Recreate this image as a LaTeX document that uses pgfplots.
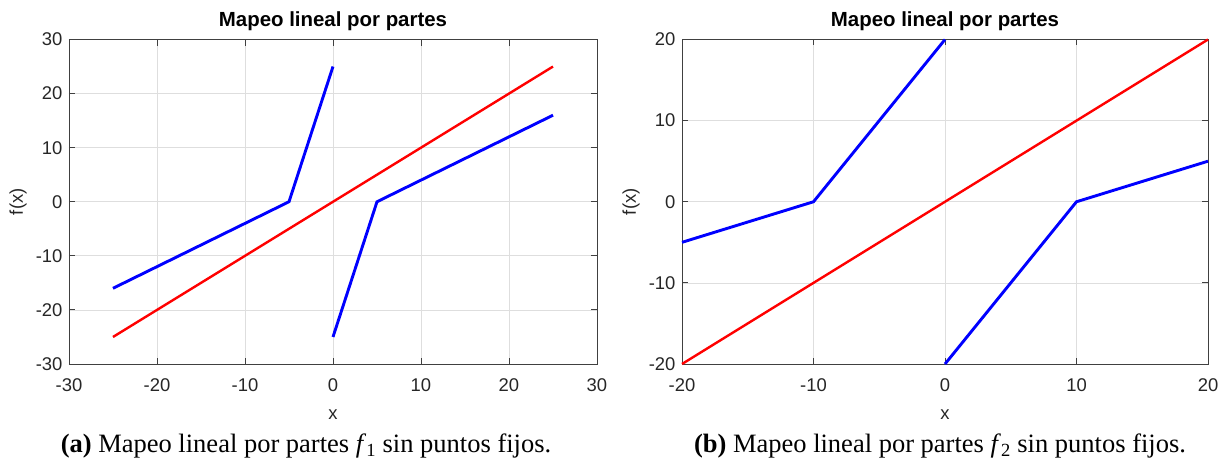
\documentclass[border=0pt]{standalone}
\usepackage{fontspec}
\setmainfont{Liberation Serif}
\newfontfamily\arial{Liberation Sans}
\usepackage{pgfplots}
\pgfplotsset{compat=1.18}
\pgfplotsset{mystyle/.style={
  scale only axis, height=324.5bp,
  grid=major, major grid style={black!13, line width=0.7bp},
  axis line style={black!75, line width=0.9bp},
  tick style={black!75, line width=0.9bp},
  tick align=inside, tick pos=both, major tick length=6bp,
  ticklabel style={font=\arial\fontsize{18.5}{21}\selectfont, text=black!85},
  xticklabel style={yshift=-11bp},
  yticklabel style={xshift=-3bp},
  title style={font=\arial\bfseries\fontsize{20.5}{23}\selectfont, at={(axis description cs:0.5,1)}, anchor=base, yshift=7.5bp},
  xlabel style={font=\arial\fontsize{18.5}{21}\selectfont, text=black!85, at={(axis description cs:0.5,-0.155)}, anchor=center},
  ylabel style={font=\arial\fontsize{18.5}{21}\selectfont, text=black!85, anchor=center, rotate=0},
  title={Mapeo lineal por partes}, xlabel={x}, ylabel={f(x)},
  clip=false,
}}
\begin{document}
\begin{tikzpicture}
\path[use as bounding box] (-69bp,-94bp) rectangle (1151bp,364bp);
\begin{axis}[mystyle, width=528bp, at={(0bp,0bp)},
  ylabel style={at={(axis description cs:-0.0966,0.5)}},
  xmin=-30, xmax=30, ymin=-30, ymax=30,
  xtick={-30,-20,-10,0,10,20,30}, ytick={-30,-20,-10,0,10,20,30},
  xticklabels={-30,-20,-10,0,10,20,30}, yticklabels={-30,-20,-10,0,10,20,30}]
\addplot[red, line width=2.4bp] coordinates {(-25,-25) (25,25)};
\addplot[blue, line width=2.9bp] coordinates {(-25,-16) (-5,0) (0,25)};
\addplot[blue, line width=2.9bp] coordinates {(0,-25) (5,0) (25,16)};
\end{axis}
\node[font=\fontsize{26.6}{30}\selectfont] at (237bp,-82bp) {\textbf{(a)} Mapeo lineal por partes \textit{f}\textsubscript{1} sin puntos fijos.};
\begin{axis}[mystyle, width=526bp, at={(613bp,0bp)},
  ylabel style={at={(axis description cs:-0.097,0.5)}},
  xmin=-20, xmax=20, ymin=-20, ymax=20,
  xtick={-20,-10,0,10,20}, ytick={-20,-10,0,10,20},
  xticklabels={-20,-10,0,10,20}, yticklabels={-20,-10,0,10,20}]
\addplot[red, line width=2.4bp] coordinates {(-20,-20) (20,20)};
\addplot[blue, line width=2.9bp] coordinates {(-20,-5) (-10,0) (0,20)};
\addplot[blue, line width=2.9bp] coordinates {(0,-20) (10,0) (20,5)};
\end{axis}
\node[font=\fontsize{26.6}{30}\selectfont] at (871bp,-82bp) {\textbf{(b)} Mapeo lineal por partes \textit{f}\textsubscript{2} sin puntos fijos.};
\end{tikzpicture}
\end{document}
